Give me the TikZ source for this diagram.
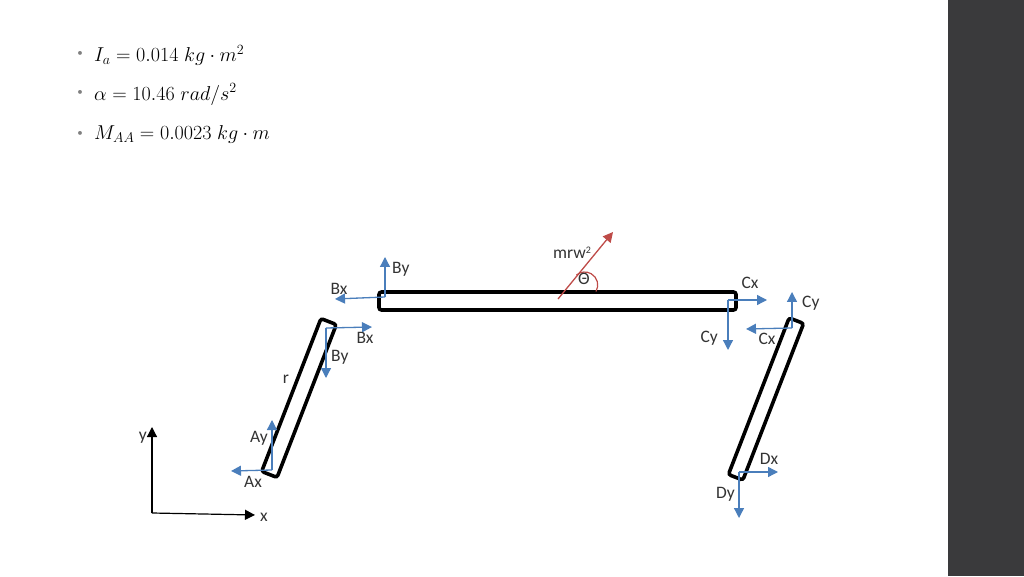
\documentclass[tikz,border=0pt]{standalone}
\usepackage{fix-cm}
\usepackage[no-math]{fontspec}
\usepackage{amsmath}
\setmainfont{Carlito}
\usetikzlibrary{calc}
\usetikzlibrary{positioning}
\usetikzlibrary{arrows.meta}
\definecolor{panelgray}{HTML}{3A3A3C}
\definecolor{forceblue}{HTML}{4A7EBB}
\definecolor{forcered}{HTML}{BE4B48}
\tikzset{
  link/.style={draw=black, fill=white, line width=3.6pt, rounded corners=2.5pt, inner sep=0pt, outer sep=0pt},
  force/.style={draw=forceblue, line width=1.3pt, -{Triangle[length=10pt,width=10pt]}},
  axis/.style={draw=black, line width=1.2pt, -{Triangle[length=10pt,width=10pt]}},
  lbl/.style={inner sep=0pt, text=black!80, font=\fontsize{17.5}{19}\selectfont},
  eqn/.style={inner sep=0pt, anchor=west, text=black, font=\fontsize{20.1}{23}\selectfont},
  dot/.style={inner sep=0pt, text=black!50, font=\fontsize{11}{12}\selectfont}
}

\begin{document}
\begin{tikzpicture}[x=1pt, y=1pt]
  \useasboundingbox (0,0) rectangle (1024,576);
  \node [fill=panelgray, minimum width=76pt, minimum height=576pt, inner sep=0pt, outer sep=0pt] (panel) at (986,288) {};

  \node [eqn] (eq1) at (94,520.5) {$I_a = 0.014\; kg \cdot m^2$};
  \node [eqn] (eq2) at (94,481.5) {$\alpha = 10.46\; rad/s^2$};
  \node [eqn] (eq3) at (94,441.5) {$M_{AA} = 0.0023\; kg \cdot m$};
  \node [dot] (b1) at (80,522) {•};
  \node [dot] (b2) at (80,483) {•};
  \node [dot] (b3) at (80,442) {•};

  \node [link, minimum width=357pt, minimum height=18pt] (bar) at (557.5,275) {};
  \node [link, minimum width=164pt, minimum height=16.5pt, rotate=68.8] (ab) at (299,178) {};
  \node [link, minimum width=168pt, minimum height=15.5pt, rotate=68.8] (cd) at (766,177) {};

  % joint B
  \coordinate (j1) at (385,279);
  \coordinate (j1y) at (385,319);
  \coordinate (j1x) at (335,277);
  \draw [force] (j1) -- (j1y);
  \draw [force] (j1) -- (j1x);
  \node [lbl, right=7pt of j1y, yshift=-12pt] (l1y) {By};
  \node [lbl, above=4pt of j1x, xshift=4pt] (l1x) {Bx};

  \coordinate (j2) at (326,248);
  \coordinate (j2x) at (372,249);
  \coordinate (j2y) at (326,198);
  \draw [force] (j2) -- (j2x);
  \draw [force] (j2) -- (j2y);
  \node [lbl, below=5pt of j2x, xshift=-7pt] (l2x) {Bx};
  \node [lbl, right=5pt of j2y, yshift=21pt] (l2y) {By};
  \node [lbl] (r) at (286,197) {r};

  % joint A
  \coordinate (j3) at (272,106);
  \coordinate (j3y) at (272,156);
  \coordinate (j3x) at (231,105);
  \draw [force] (j3) -- (j3y);
  \draw [force] (j3) -- (j3x);
  \node [lbl, left=4pt of j3y, yshift=-18pt] (l3y) {Ay};
  \node [lbl, below=5pt of j3x, xshift=22pt] (l3x) {Ax};

  % joint C
  \coordinate (j4) at (728,276);
  \coordinate (j4x) at (767,276);
  \coordinate (j4y) at (728,226);
  \draw [force] (j4) -- (j4x);
  \draw [force] (j4) -- (j4y);
  \node [lbl, above=11pt of j4x, xshift=-17pt] (l4x) {Cx};
  \node [lbl, left=10pt of j4y, yshift=12pt] (l4y) {Cy};

  \coordinate (j5) at (792,248);
  \coordinate (j5y) at (792,284);
  \coordinate (j5x) at (746,247);
  \draw [force] (j5) -- (j5y);
  \draw [force] (j5) -- (j5x);
  \node [lbl, right=10pt of j5y, yshift=-11pt] (l5y) {Cy};
  \node [lbl, below=4pt of j5x, xshift=21pt] (l5x) {Cx};

  % joint D
  \coordinate (j6) at (739,104);
  \coordinate (j6x) at (778,104);
  \coordinate (j6y) at (739,58);
  \draw [force] (j6) -- (j6x);
  \draw [force] (j6) -- (j6y);
  \node [lbl, above=7pt of j6x, xshift=-9pt] (l6x) {Dx};
  \node [lbl, left=4pt of j6y, yshift=24pt] (l6y) {Dy};

  % crank force
  \coordinate (m0) at (558,277);
  \coordinate (m1) at (613,344);
  \coordinate (tha) at (596,284.5);
  \draw [draw=forcered, line width=1.3pt, -{Triangle[length=10pt,width=10pt]}] (m0) -- (m1);
  \draw [draw=forcered, line width=1.2pt] (tha) arc [start angle=-30, end angle=130, radius=13];
  \node [lbl] (mrw) at (572,323) {mrw\raisebox{5pt}{\fontsize{10}{10}\selectfont 2}};
  \node [lbl] (th) at (584,297) {Θ};

  % axes
  \coordinate (o) at (152,63);
  \coordinate (ox) at (255,61);
  \coordinate (oy) at (152,149);
  \draw [axis] (o) -- (ox);
  \draw [axis] (o) -- (oy);
  \node [lbl, right=5pt of ox, yshift=-2pt] (xl) {x};
  \node [lbl, left=5pt of oy, yshift=-11pt] (yl) {y};
\end{tikzpicture}
\end{document}
